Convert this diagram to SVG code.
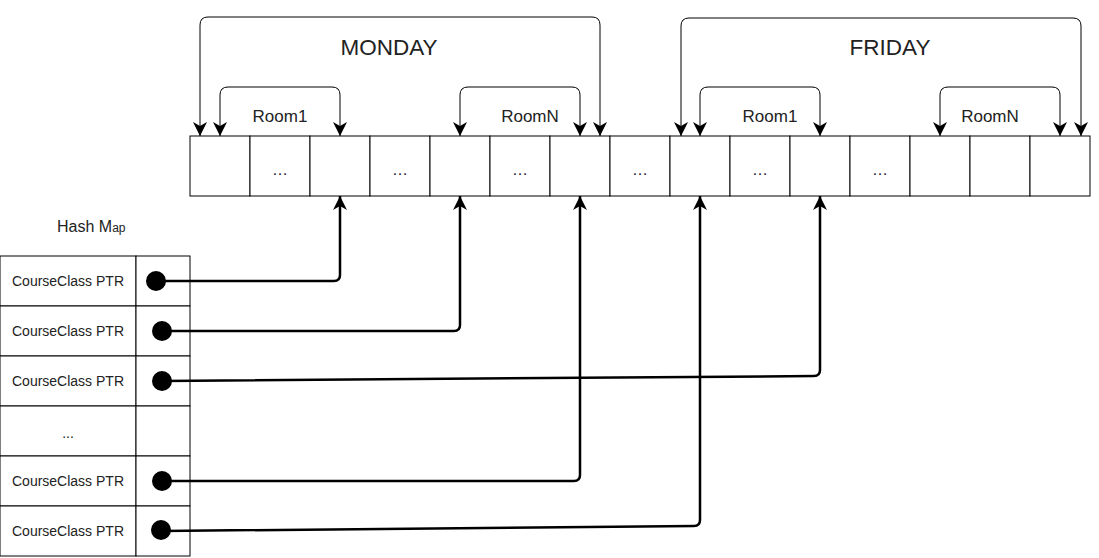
<svg xmlns="http://www.w3.org/2000/svg" width="1099" height="558" viewBox="0 0 1099 558">
<style>
.cell{fill:#fff;stroke:#000;stroke-width:1}
.t{font-family:"Liberation Sans",Arial,sans-serif;fill:#222;text-anchor:middle}
.day{font-size:22.5px}
.room{font-size:17px}
.dots{font-size:16px}
.cc{font-size:14px}
.arc{fill:none;stroke:#000;stroke-width:1;marker-start:url(#ah);marker-end:url(#ah)}
.ptr{fill:none;stroke:#000;stroke-width:2.5;marker-end:url(#ah2)}
</style>
<defs>
<marker id="ah" markerUnits="userSpaceOnUse" markerWidth="16" markerHeight="16" refX="14" refY="7" orient="auto-start-reverse" viewBox="0 0 16 14">
<path d="M0,0 L14,7 L0,14 L4,7 Z" fill="#000"/>
</marker>
<marker id="ah2" markerUnits="userSpaceOnUse" markerWidth="16" markerHeight="16" refX="14" refY="7" orient="auto" viewBox="0 0 16 14">
<path d="M0,0 L14,7 L0,14 L4,7 Z" fill="#000"/>
</marker>
</defs>

<g id="array">
<rect class="cell" x="190" y="136" width="60" height="60"/>
<rect class="cell" x="250" y="136" width="60" height="60"/>
<rect class="cell" x="310" y="136" width="60" height="60"/>
<rect class="cell" x="370" y="136" width="60" height="60"/>
<rect class="cell" x="430" y="136" width="60" height="60"/>
<rect class="cell" x="490" y="136" width="60" height="60"/>
<rect class="cell" x="550" y="136" width="60" height="60"/>
<rect class="cell" x="610" y="136" width="60" height="60"/>
<rect class="cell" x="670" y="136" width="60" height="60"/>
<rect class="cell" x="730" y="136" width="60" height="60"/>
<rect class="cell" x="790" y="136" width="60" height="60"/>
<rect class="cell" x="850" y="136" width="60" height="60"/>
<rect class="cell" x="910" y="136" width="60" height="60"/>
<rect class="cell" x="970" y="136" width="60" height="60"/>
<rect class="cell" x="1030" y="136" width="60" height="60"/>
<text class="t dots" x="280" y="175">…</text>
<text class="t dots" x="400" y="175">…</text>
<text class="t dots" x="520" y="175">…</text>
<text class="t dots" x="640" y="175">…</text>
<text class="t dots" x="760" y="175">…</text>
<text class="t dots" x="880" y="175">…</text>
</g>

<g id="labels">
<text class="t day" x="389" y="55">MONDAY</text>
<text class="t day" x="890" y="55">FRIDAY</text>
<text class="t room" x="280" y="122">Room1</text>
<text class="t room" x="530" y="122">RoomN</text>
<text class="t room" x="770" y="122">Room1</text>
<text class="t room" x="990" y="122">RoomN</text>
</g>

<g id="hashmap">
<text x="57" y="232" font-family="'Liberation Sans',Arial,sans-serif" fill="#222" font-size="16">Hash M<tspan font-size="12">ap</tspan></text>
<rect class="cell" x="0" y="256" width="136" height="50"/>
<rect class="cell" x="136" y="256" width="54" height="50"/>
<rect class="cell" x="0" y="306" width="136" height="50"/>
<rect class="cell" x="136" y="306" width="54" height="50"/>
<rect class="cell" x="0" y="356" width="136" height="50"/>
<rect class="cell" x="136" y="356" width="54" height="50"/>
<rect class="cell" x="0" y="406" width="136" height="50"/>
<rect class="cell" x="136" y="406" width="54" height="50"/>
<rect class="cell" x="0" y="456" width="136" height="50"/>
<rect class="cell" x="136" y="456" width="54" height="50"/>
<rect class="cell" x="0" y="506" width="136" height="50"/>
<rect class="cell" x="136" y="506" width="54" height="50"/>
<text class="t cc" x="68" y="286">CourseClass PTR</text>
<text class="t cc" x="68" y="336">CourseClass PTR</text>
<text class="t cc" x="68" y="386">CourseClass PTR</text>
<text class="t cc" x="68" y="438">...</text>
<text class="t cc" x="68" y="486">CourseClass PTR</text>
<text class="t cc" x="68" y="536">CourseClass PTR</text>
</g>

<g id="connectors">
<path class="arc" d="M200,136 V25 Q200,17 208,17 H592 Q600,17 600,25 V136"/>
<path class="arc" d="M220,136 V95 Q220,87 228,87 H332 Q340,87 340,95 V136"/>
<path class="arc" d="M460,136 V95 Q460,87 468,87 H572 Q580,87 580,95 V136"/>
<path class="arc" d="M681,136 V26 Q681,18 689,18 H1073 Q1081,18 1081,26 V136"/>
<path class="arc" d="M700,136 V95 Q700,87 708,87 H812 Q820,87 820,95 V136"/>
<path class="arc" d="M940,136 V95 Q940,87 948,87 H1052 Q1060,87 1060,95 V136"/>

<path class="ptr" d="M157,281 H334 Q340,281 340,275 V196"/>
<path class="ptr" d="M162,331 H454 Q460,331 460,325 V196"/>
<path class="ptr" d="M162,381 L814,376 Q820,376 820,370 V196"/>
<path class="ptr" d="M162,481 H574 Q580,481 580,475 V196"/>
<path class="ptr" d="M162,531 L694,526 Q700,526 700,520 V196"/>
<circle cx="156" cy="281" r="10" fill="#000"/>
<circle cx="162" cy="331" r="10" fill="#000"/>
<circle cx="162" cy="381" r="10" fill="#000"/>
<circle cx="162" cy="481" r="10" fill="#000"/>
<circle cx="161" cy="530" r="10" fill="#000"/>
</g>
</svg>
